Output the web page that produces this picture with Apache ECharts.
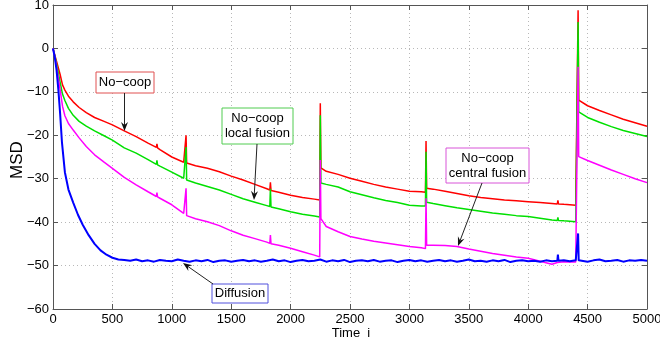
<!DOCTYPE html>
<html>
<head>
<meta charset="utf-8">
<script src="https://cdn.jsdelivr.net/npm/echarts@6/dist/echarts.min.js"></script>
<style>
html,body{margin:0;padding:0;background:#fff;}
#chart{width:660px;height:349px;}
</style>
</head>
<body>
<div id="chart"></div>
<script>
// ---- data ----
var xTicks = [0, 500, 1000, 1500, 2000, 2500, 3000, 3500, 4000, 4500, 5000];
var yTicks = [-60, -50, -40, -30, -20, -10, 0, 10];

var timeSteps = [0,20,40,60,80,100,130,170,220,280,350,430,500,600,700,800,870,875,880,900,1000,1100,1115,1120,1125,1200,1300,1400,1500,1600,1700,1800,1825,1830,1835,1900,2000,2100,2200,2245,2250,2255,2300,2400,2500,2600,2700,2800,2900,3000,3100,3135,3140,3145,3200,3300,3400,3500,3600,3700,3800,3900,4000,4100,4200,4245,4250,4255,4300,4400,4415,4420,4425,4500,4600,4700,4800,4900,5000];

var noCoop = [0,-2.0,-4.0,-6.0,-8.4,-9.6,-11.0,-12.3,-13.6,-14.8,-15.9,-16.8,-17.6,-19.0,-20.3,-21.8,-22.8,-22.0,-22.9,-23.3,-25.0,-26.2,-26.4,-20.0,-26.4,-27.0,-27.6,-28.4,-29.4,-30.3,-31.3,-32.3,-32.6,-30.8,-32.7,-33.1,-33.8,-34.3,-34.7,-34.9,-12.6,-27.5,-28.3,-29.0,-29.9,-30.6,-31.3,-31.9,-32.4,-32.9,-33.0,-33.1,-21.3,-32.2,-32.4,-32.9,-33.4,-33.9,-34.3,-34.6,-34.9,-35.1,-35.3,-35.5,-35.7,-35.8,-35.0,-35.8,-35.9,-36.1,-36.1,8.8,-11.9,-13.2,-14.3,-15.3,-16.3,-17.1,-17.9];

var noCoopLocal = [0,-2.3,-5.0,-7.8,-10.5,-12.0,-13.8,-15.4,-16.8,-17.9,-19.0,-20.1,-21.1,-22.9,-24.1,-25.6,-26.7,-25.8,-26.8,-27.1,-28.5,-29.9,-30.3,-22.7,-30.3,-31.0,-31.8,-32.6,-33.6,-34.6,-35.4,-36.2,-36.4,-32.3,-36.5,-36.9,-37.6,-38.2,-38.6,-38.8,-15.4,-31.0,-31.3,-31.9,-33.0,-33.7,-34.4,-35.0,-35.5,-36.1,-36.3,-36.3,-23.8,-35.4,-35.7,-36.2,-36.7,-37.1,-37.5,-37.9,-38.2,-38.5,-38.7,-39.1,-39.5,-39.6,-38.9,-39.6,-39.7,-39.9,-39.9,6.1,-14.6,-15.9,-17.0,-18.0,-18.9,-19.6,-20.3];

var noCoopCentral = [0,-2.6,-6.0,-9.5,-13.3,-15.5,-17.3,-18.8,-20.6,-22.6,-24.5,-26.2,-27.6,-29.7,-31.4,-33.0,-34.1,-33.2,-34.2,-34.5,-36.0,-38.0,-38.4,-32.2,-38.5,-39.2,-39.9,-40.8,-42.0,-43.0,-43.8,-44.6,-44.9,-43.0,-45.0,-45.3,-46.0,-46.8,-47.6,-48.0,-25.7,-39.2,-41.0,-42.2,-43.3,-43.9,-44.4,-44.8,-45.2,-45.6,-45.9,-46.1,-34.5,-45.3,-45.3,-45.4,-45.6,-46.2,-46.7,-47.2,-47.6,-48.0,-48.3,-49.0,-49.7,-49.3,-49.0,-49.3,-49.1,-49.2,-49.1,-4.2,-24.9,-25.8,-26.9,-28.0,-29.0,-30.0,-30.9];

var diffusionTime = [0,15,30,45,60,75,100,130,170,210,250,300,350,400,450,500,550,
 600,650,700,750,800,850,900,950,1000,1050,
 1100,1150,1200,1250,1300,1350,1400,1450,1500,1550,
 1600,1650,1700,1750,1800,1850,1900,1950,2000,2050,
 2100,2150,2200,2250,2300,2350,2400,2450,2500,2550,
 2600,2650,2700,2750,2800,2850,2900,2950,3000,3050,
 3100,3150,3200,3250,3300,3350,3400,3450,3500,3550,
 3600,3650,3700,3750,3800,3850,3900,3950,4000,4050,
 4100,4150,4200,4245,4250,4255,4300,4350,4400,4415,4420,4425,
 4450,4500,4550,4600,4650,4700,4750,4800,4850,4900,4950,5000];

var diffusion = [0,-2.0,-5.0,-9.5,-15.0,-21.5,-28.5,-32.5,-35.5,-38.3,-40.6,-43.0,-45.0,-46.5,-47.5,-48.2,-48.6,
 -48.7,-48.9,-48.6,-49.0,-48.8,-49.1,-48.7,-48.9,-49.0,-48.6,
 -48.9,-49.1,-48.8,-49.0,-48.7,-49.2,-48.9,-48.8,-49.1,-48.9,
 -48.7,-49.0,-48.8,-49.1,-48.9,-48.6,-49.0,-48.8,-49.2,-48.9,
 -48.7,-49.0,-48.9,-48.6,-49.1,-48.8,-49.0,-48.7,-49.2,-48.9,
 -48.8,-49.0,-48.7,-49.1,-48.9,-48.8,-49.2,-48.9,-48.7,-49.0,
 -48.8,-49.1,-48.9,-48.7,-49.0,-48.8,-49.1,-48.9,-48.6,-49.0,
 -48.9,-49.1,-48.8,-49.0,-48.7,-49.2,-48.9,-48.8,-49.0,-48.9,
 -49.1,-48.8,-49.0,-48.9,-47.5,-48.9,-48.8,-49.0,-48.8,-48.9,-42.6,-48.8,
 -48.9,-49.1,-48.8,-48.6,-49.0,-48.9,-48.7,-49.1,-48.8,-48.9,-48.7,-48.9];

// ---- chart ----
var FONT = "'Liberation Sans', Arial, Helvetica, sans-serif";
function pairs(xs, ys){ return xs.map(function(x,i){ return [x, ys[i]]; }); }
function minusFmt(v){ return String(v).replace('-', '\u2212'); }
function plainFmt(v){ return String(v); }

var chart = echarts.init(document.getElementById('chart'), null, {renderer:'canvas'});

var axisLineStyle = {color:'#555', width:1};
var gridLine = {show:true, lineStyle:{color:'#b8b8b8', width:1, type:[1,3]}};

function xAx(pos, labels){
  return {type:'value', position:pos, min:xTicks[0], max:xTicks[xTicks.length-1], interval:xTicks[1]-xTicks[0],
    axisLine:{show:true, onZero:false, lineStyle:axisLineStyle},
    axisTick:{show:true, inside:true, length:5, lineStyle:axisLineStyle},
    axisLabel:{show:labels, color:'#000', fontSize:13, fontFamily:FONT, margin:4, formatter:plainFmt, showMinLabel:true, showMaxLabel:true, hideOverlap:false},
    splitLine: labels ? gridLine : {show:false}};
}
function yAx(pos, labels){
  return {type:'value', position:pos, min:yTicks[0], max:yTicks[yTicks.length-1], interval:yTicks[1]-yTicks[0],
    axisLine:{show:true, onZero:false, lineStyle:axisLineStyle},
    axisTick:{show:true, inside:true, length:5, lineStyle:axisLineStyle},
    axisLabel:{show:labels, color:'#000', fontSize:13, fontFamily:FONT, margin:4, formatter:minusFmt, showMinLabel:true, showMaxLabel:true, hideOverlap:false},
    splitLine: labels ? gridLine : {show:false}};
}
function line(name, xs, ys, color, w){
  return {name:name, type:'line', xAxisIndex:0, yAxisIndex:0, data:pairs(xs, ys), showSymbol:false, symbol:'none',
    lineStyle:{color:color, width:w, join:'bevel'}, itemStyle:{color:color}, silent:true, clip:true};
}

function box(x, y, w, h, color, lines, lineH){
  var els = [{type:'rect', shape:{x:x, y:y, width:w, height:h}, style:{fill:'#fff', stroke:color, lineWidth:1}, z:100}];
  var cy = y + h/2 - (lines.length-1)*lineH/2;
  lines.forEach(function(t, i){
    els.push({type:'text', x:x + w/2, y:cy + i*lineH, style:{text:t, fill:'#000', font:'13px ' + FONT, align:'center', verticalAlign:'middle'}, z:101});
  });
  return els;
}
function arrow(x1, y1, x2, y2){
  var dx = x2-x1, dy = y2-y1, L = Math.sqrt(dx*dx+dy*dy), ux = dx/L, uy = dy/L;
  var hl = 9, hw = 3.5, back = 6;
  var bx = x2 - ux*hl, by = y2 - uy*hl;
  var nx = x2 - ux*back, ny = y2 - uy*back;
  return [
    {type:'line', shape:{x1:x1, y1:y1, x2:nx, y2:ny}, style:{stroke:'#222', lineWidth:1}, z:100},
    {type:'polygon', shape:{points:[[x2,y2],[bx - uy*hw, by + ux*hw],[nx, ny],[bx + uy*hw, by - ux*hw]]}, style:{fill:'#111'}, z:100}
  ];
}

var graphics = [].concat(
  box(96, 72, 58, 21, '#e05050', ['No\u2212coop'], 15),
  arrow(124.5, 93, 124.5, 131),
  box(222, 108, 71, 36, '#50cc50', ['No\u2212coop', 'local fusion'], 15),
  arrow(257, 144, 254, 200),
  box(446, 148, 83, 35, '#d855d8', ['No\u2212coop', 'central fusion'], 15),
  arrow(482, 183, 458, 246),
  box(212, 284, 56, 19, '#5050dd', ['Diffusion'], 15),
  arrow(213, 284, 183, 263),
  [
    {type:'text', x:17, y:160, rotation:Math.PI/2, style:{text:'MSD', fill:'#000', font:'17px ' + FONT, align:'center', verticalAlign:'middle'}},
    {type:'text', x:351, y:333, style:{text:'Time  i', fill:'#000', font:'13px ' + FONT, align:'center', verticalAlign:'middle'}}
  ]
);

chart.setOption({
  animation:false,
  backgroundColor:'#fff',
  grid:{left:53, right:13, top:5, bottom:40, containLabel:false, outerBoundsMode:'none'},
  xAxis:[xAx('bottom', true), xAx('top', false)],
  yAxis:[yAx('left', true), yAx('right', false)],
  series:[
    line('No-coop', timeSteps, noCoop, '#ff0000', 1.5),
    line('No-coop local fusion', timeSteps, noCoopLocal, '#00e000', 1.5),
    line('No-coop central fusion', timeSteps, noCoopCentral, '#ff00ff', 1.5),
    line('Diffusion', diffusionTime, diffusion, '#0000ff', 2)
  ],
  graphic:graphics
});
</script>
</body>
</html>
